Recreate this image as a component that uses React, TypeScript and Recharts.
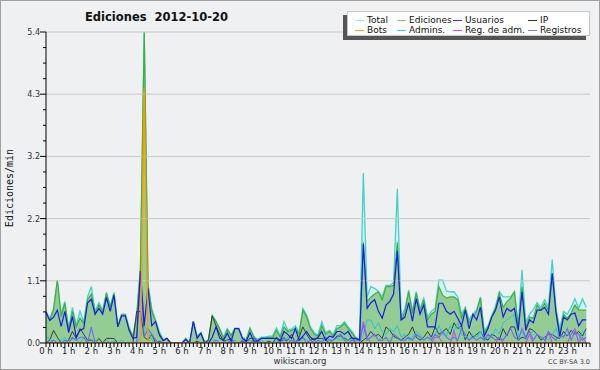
import { ComposedChart, Area, Line, XAxis, YAxis, ReferenceLine } from "recharts";

// 10-minute buckets, 2012-10-20 (144 points, 6 per hour)
const total = [
  0.55, 0.42, 0.6, 1.09, 0.5, 0.72,
  0.25, 0.62, 0.3, 0.55, 0.36, 0.8,
  0.98, 0.55, 0.7, 0.56, 0.88, 0.64,
  0.88, 0.3, 0.5, 0.5, 0.27, 0.12,
  0.5, 1.3, 5.4, 1.02, 0.6, 0.4,
  0.2, 0.06, 0.08, 0, 0, 0,
  0, 0.08, 0, 0.38, 0.12, 0.18,
  0.02, 0.06, 0.48, 0.38, 0.25, 0.1,
  0.25, 0.14, 0.26, 0.26, 0.1, 0.06,
  0.26, 0.12, 0.06, 0.1, 0.1, 0.12,
  0.12, 0.26, 0.12, 0.37, 0.22, 0.24,
  0.3, 0.18, 0.6, 0.48, 0.28, 0.18,
  0.14, 0.37, 0.18, 0.22, 0.14, 0.3,
  0.3, 0.37, 0.28, 0.2, 0.1, 0.06,
  2.95, 0.8, 0.98, 0.95, 0.89, 0.8,
  1.0, 1.0, 1.05, 2.68, 0.45, 0.6,
  0.92, 0.55, 0.89, 0.6, 0.78, 0.45,
  0.55, 0.6, 1.09, 1.09, 0.9, 0.89,
  0.89, 0.8, 0.5, 0.62, 0.4, 0.5,
  0.58, 0.8, 0.2, 0.3, 0.48, 0.64,
  0.89, 0.8, 0.8, 0.8, 0.89, 0.3,
  1.27, 0.35, 0.5, 0.58, 0.7, 0.62,
  0.75, 0.62, 1.45, 0.6, 0.25, 0.55,
  0.5, 0.62, 0.77, 0.6, 0.77, 0.62,
];

const ediciones = [
  0.52, 0.4, 0.57, 1.09, 0.46, 0.69,
  0.23, 0.55, 0.28, 0.43, 0.34, 0.75,
  0.85, 0.51, 0.66, 0.54, 0.86, 0.62,
  0.86, 0.28, 0.49, 0.49, 0.25, 0.11,
  0.45, 1.3, 5.4, 1.0, 0.55, 0.37,
  0.17, 0.05, 0.08, 0, 0, 0,
  0, 0.08, 0, 0.37, 0.11, 0.17,
  0, 0.05, 0.47, 0.37, 0.23, 0.08,
  0.23, 0.12, 0.25, 0.25, 0.08, 0.05,
  0.25, 0.1, 0.05, 0.08, 0.08, 0.1,
  0.1, 0.22, 0.1, 0.28, 0.2, 0.22,
  0.25, 0.15, 0.57, 0.45, 0.25, 0.15,
  0.12, 0.3, 0.15, 0.2, 0.12, 0.25,
  0.28, 0.34, 0.25, 0.17, 0.08, 0.05,
  1.75, 0.72, 0.8, 0.85, 0.89, 0.75,
  0.98, 0.98, 1.0, 1.75, 0.4, 0.54,
  0.89, 0.51, 0.86, 0.55, 0.75, 0.4,
  0.5, 0.55, 0.98, 0.83, 0.78, 0.8,
  0.8, 0.75, 0.43, 0.6, 0.35, 0.45,
  0.55, 0.78, 0.17, 0.28, 0.45, 0.6,
  0.86, 0.62, 0.72, 0.78, 0.89, 0.25,
  0.98, 0.28, 0.45, 0.43, 0.66, 0.57,
  0.69, 0.57, 1.2, 0.57, 0.17, 0.5,
  0.43, 0.52, 0.66, 0.57, 0.57, 0.57,
];

const usuarios = [
  0.54, 0.39, 0.45, 0.57, 0.29, 0.55,
  0.18, 0.46, 0.1, 0.22, 0.25, 0.7,
  0.76, 0.5, 0.6, 0.5, 0.79, 0.55,
  0.83, 0.28, 0.47, 0.47, 0.22, 0.08,
  0.1, 1.25, 0.3, 0.95, 0.3, 0.37,
  0.14, 0.04, 0.08, 0, 0, 0,
  0, 0.06, 0, 0.37, 0.08, 0.17,
  0, 0, 0.1, 0.28, 0.08, 0.05,
  0.17, 0.03, 0.25, 0.25, 0.08, 0.03,
  0.18, 0.03, 0.03, 0.08, 0.08, 0.08,
  0.08, 0.08, 0.03, 0.2, 0.15, 0.08,
  0.25, 0.05, 0.12, 0.2, 0.1, 0.05,
  0.1, 0.2, 0.05, 0.12, 0.1, 0.2,
  0.2, 0.15, 0.2, 0.08, 0.08, 0.05,
  1.72, 0.6, 0.7, 0.75, 0.55, 0.43,
  0.66, 0.72, 0.85, 1.6, 0.4, 0.45,
  0.7, 0.38, 0.77, 0.5, 0.66, 0.28,
  0.28, 0.28, 0.69, 0.69, 0.55, 0.5,
  0.55, 0.43, 0.3, 0.57, 0.25, 0.5,
  0.4, 0.62, 0.12, 0.25, 0.45, 0.57,
  0.8, 0.45, 0.6, 0.55, 0.6, 0.22,
  0.89, 0.22, 0.4, 0.35, 0.57, 0.57,
  0.62, 0.5, 1.21, 0.52, 0.12, 0.45,
  0.4, 0.5, 0.52, 0.3, 0.4, 0.4,
];

const ip = [
  0, 0.05, 0.22, 0.1, 0, 0,
  0.05, 0.2, 0.08, 0.25, 0.15, 0.05,
  0.05, 0, 0.08, 0, 0.08, 0.08,
  0.08, 0, 0, 0, 0, 0,
  0.55, 0.55, 0.1, 0.05, 0.15, 0,
  0.03, 0, 0, 0, 0, 0,
  0, 0, 0, 0, 0.03, 0,
  0, 0.05, 0.47, 0.3, 0.15, 0.03,
  0.05, 0.08, 0, 0, 0.03, 0.02,
  0.08, 0.08, 0.03, 0, 0, 0.03,
  0, 0.1, 0.05, 0.05, 0.05, 0.15,
  0, 0.1, 0.28, 0.15, 0.05, 0.08,
  0.08, 0.08, 0.05, 0, 0.05, 0.12,
  0.12, 0.08, 0.05, 0.1, 0, 0,
  0.05, 0.1, 0.2, 0.12, 0.15, 0.08,
  0.28, 0.22, 0.12, 0.08, 0.05, 0.1,
  0.15, 0.28, 0.1, 0.05, 0.1, 0.2,
  0.1, 0.28, 0.15, 0.2, 0.25, 0.15,
  0.35, 0.25, 0.3, 0.05, 0.2, 0.1,
  0.15, 0.2, 0.08, 0.05, 0.15, 0.12,
  0.05, 0.25, 0.12, 0.28, 0.28, 0.05,
  0.1, 0.08, 0.25, 0.22, 0.15, 0.05,
  0.1, 0.15, 0.15, 0.1, 0.08, 0.2,
  0.12, 0.22, 0.15, 0.2, 0.12, 0.25,
];

const bots = [
  0, 0, 0, 0, 0, 0,
  0, 0, 0, 0, 0, 0,
  0, 0, 0, 0, 0, 0,
  0, 0, 0, 0, 0, 0,
  0, 0, 4.42, 0, 0, 0,
  0, 0, 0, 0, 0, 0,
  0, 0, 0, 0, 0, 0,
  0, 0, 0, 0, 0, 0,
  0, 0, 0, 0, 0, 0,
  0, 0, 0, 0, 0, 0,
  0, 0, 0, 0, 0, 0,
  0, 0, 0, 0, 0, 0,
  0, 0, 0, 0, 0, 0,
  0, 0, 0, 0, 0, 0,
  0, 0, 0, 0, 0, 0,
  0, 0, 0, 0, 0, 0,
  0, 0, 0, 0, 0, 0,
  0, 0, 0, 0, 0, 0,
  0, 0, 0, 0, 0, 0,
  0, 0, 0, 0, 0, 0,
  0, 0, 0, 0, 0, 0,
  0, 0, 0, 0, 0, 0,
  0, 0, 0, 0, 0, 0,
  0, 0, 0, 0, 0, 0,
];

const admins = [
  0.1, 0.08, 0, 0, 0.05, 0.1,
  0, 0.08, 0.05, 0, 0.1, 0,
  0, 0.05, 0, 0, 0.05, 0,
  0.03, 0, 0.05, 0, 0, 0,
  0, 0.1, 0.3, 0.2, 0.05, 0,
  0, 0, 0, 0, 0, 0,
  0, 0, 0, 0, 0, 0,
  0, 0, 0.05, 0.05, 0, 0,
  0.05, 0, 0.05, 0, 0, 0,
  0.05, 0, 0, 0.05, 0, 0,
  0, 0.05, 0, 0.05, 0.1, 0,
  0.05, 0, 0.1, 0.05, 0, 0.05,
  0, 0.05, 0.1, 0, 0.05, 0.08,
  0.05, 0.1, 0.05, 0.05, 0, 0,
  0.15, 0.4, 0.4, 0.25, 0.35, 0.2,
  0.15, 0.25, 0.2, 0.3, 0.1, 0.15,
  0.05, 0.1, 0.2, 0.15, 0.05, 0.1,
  0.08, 0.15, 0.3, 0.15, 0.12, 0.3,
  0.2, 0.35, 0.15, 0.1, 0.05, 0.15,
  0.1, 0.2, 0.05, 0.1, 0.1, 0.25,
  0.15, 0.35, 0.4, 0.45, 0.5, 0.1,
  0.2, 0.05, 0.15, 0.2, 0.15, 0.1,
  0.1, 0.05, 0.15, 0.25, 0.1, 0.12,
  0.15, 0.15, 0.2, 0.05, 0.2, 0.15,
];

const regAdm = [
  0, 0, 0, 0, 0, 0,
  0, 0, 0, 0, 0, 0,
  0, 0, 0, 0, 0, 0,
  0, 0, 0, 0, 0, 0,
  0, 0, 0, 0, 0, 0,
  0, 0, 0, 0, 0, 0,
  0, 0, 0, 0, 0, 0,
  0, 0, 0, 0, 0, 0,
  0, 0, 0, 0, 0, 0,
  0, 0, 0, 0, 0, 0,
  0, 0, 0, 0, 0, 0,
  0, 0, 0, 0, 0, 0,
  0, 0, 0, 0, 0, 0,
  0, 0, 0, 0, 0, 0,
  0.37, 0.1, 0, 0, 0, 0,
  0, 0, 0, 0, 0, 0,
  0, 0, 0, 0, 0, 0,
  0, 0.1, 0.1, 0, 0, 0,
  0.2, 0, 0, 0, 0, 0,
  0, 0, 0, 0, 0, 0,
  0.1, 0, 0, 0, 0, 0,
  0, 0, 0.15, 0, 0, 0,
  0, 0.2, 0, 0, 0, 0,
  0, 0.15, 0.25, 0, 0.1, 0,
];

const registros = [
  0, 0, 0.05, 0, 0, 0.05,
  0, 0.1, 0.05, 0.1, 0.1, 0,
  0.28, 0, 0, 0, 0, 0,
  0, 0, 0, 0, 0, 0,
  0, 1.15, 0.1, 0.25, 0.15, 0.05,
  0, 0, 0, 0, 0, 0,
  0, 0, 0, 0, 0, 0,
  0, 0, 0, 0.05, 0, 0,
  0, 0.05, 0, 0, 0.05, 0,
  0, 0.05, 0.05, 0, 0, 0,
  0, 0, 0.05, 0.1, 0, 0.05,
  0, 0.05, 0.1, 0, 0.05, 0,
  0.05, 0, 0.1, 0.05, 0.05, 0.1,
  0.15, 0.05, 0, 0.05, 0.05, 0.05,
  0.3, 0.05, 0.1, 0.15, 0.05, 0.05,
  0.1, 0, 0.15, 0.1, 0.05, 0.05,
  0.1, 0.05, 0.15, 0.1, 0.05, 0.1,
  0.05, 0.15, 0.1, 0.2, 0.1, 0.05,
  0.1, 0.05, 0.25, 0.15, 0.05, 0.1,
  0.05, 0.1, 0.05, 0.15, 0.1, 0.05,
  0.1, 0.05, 0.15, 0.25, 0.1, 0.05,
  0.25, 0.1, 0.2, 0.05, 0.15, 0.1,
  0.05, 0.2, 0.1, 0.05, 0.15, 0.1,
  0.25, 0.05, 0.2, 0.15, 0.05, 0.1,
];

const hourLabels = [
  "0 h", "1 h", "2 h", "3 h", "4 h", "5 h", "6 h", "7 h", "8 h", "9 h", "10 h", "11 h",
  "12 h", "13 h", "14 h", "15 h", "16 h", "17 h", "18 h", "19 h", "20 h", "21 h", "22 h", "23 h",
];

// y ticks every 0.27, labelled every fourth one
const yTicks = [
  0, 0.27, 0.54, 0.81, 1.08, 1.35, 1.62, 1.89, 2.16, 2.43, 2.7,
  2.97, 3.24, 3.51, 3.78, 4.05, 4.32, 4.59, 4.86, 5.13, 5.4,
];
const yGrid = [1.08, 2.16, 3.24, 4.32, 5.4];

const legend = [
  { name: "Total", color: "#9fe8e2", x: 355, y: 0 },
  { name: "Ediciones", color: "#77cf77", x: 397, y: 0 },
  { name: "Usuarios", color: "#3333ee", x: 453, y: 0 },
  { name: "IP", color: "#333333", x: 528, y: 0 },
  { name: "Bots", color: "#ffa030", x: 355, y: 1 },
  { name: "Admins.", color: "#33ccee", x: 397, y: 1 },
  { name: "Reg. de adm.", color: "#dd44ee", x: 453, y: 1 },
  { name: "Registros", color: "#7777ff", x: 528, y: 1 },
];

const data = total.map((t, i) => ({
  i,
  total: t,
  ediciones: ediciones[i],
  usuarios: usuarios[i],
  ip: ip[i],
  bots: bots[i],
  admins: admins[i],
  regAdm: regAdm[i],
  registros: registros[i],
}));

const xTicks = Array.from({ length: 145 }, (_, i) => i);
const font = "DejaVu Sans, sans-serif";

const XTick = (props: any) => {
  const { x, y, payload } = props;
  const v = payload.value;
  const major = v % 6 === 0;
  return (
    <g>
      <line x1={x} x2={x} y1={y} y2={y + 4} stroke="#000" />
      {major && v / 6 < hourLabels.length && (
        <text x={x} y={y + 11} textAnchor="middle" fontSize={8.5} fontFamily={font} fill="#222">
          {hourLabels[v / 6]}
        </text>
      )}
    </g>
  );
};

const YTick = (props: any) => {
  const { x, y, index, payload } = props;
  const major = index % 4 === 0;
  return (
    <g>
      <line x1={x - (major ? 6 : 3)} x2={x} y1={y} y2={y} stroke="#000" />
      {major && (
        <text x={x - 6} y={y + 3} textAnchor="end" fontSize={8} fontFamily={font} fill="#333">
          {payload.value.toFixed(1)}
        </text>
      )}
    </g>
  );
};

export default function App() {
  return (
    <div
      style={{
        position: "absolute",
        left: 0,
        top: 0,
        width: 600,
        height: 370,
        background: "#eef0f1",
        boxShadow: "inset 0 0 0 1px #a0a0a0",
        fontFamily: font,
      }}
    >
      <ComposedChart width={600} height={370} data={data} margin={{ top: 32, right: 10, bottom: 0, left: 0 }}>
        {yGrid.map((g) => (
          <ReferenceLine key={g} y={g} stroke="#c8c8c8" />
        ))}
        <XAxis
          dataKey="i"
          type="number"
          domain={[0, 144]}
          ticks={xTicks}
          interval={0}
          height={27}
          tickSize={0}
          tickMargin={0}
          tickLine={false}
          axisLine={{ stroke: "#000" }}
          tick={XTick}
        />
        <YAxis
          type="number"
          domain={[0, 5.4]}
          ticks={yTicks}
          interval={0}
          width={46}
          tickSize={0}
          tickMargin={0}
          tickLine={false}
          axisLine={{ stroke: "#000" }}
          tick={YTick}
          allowDataOverflow
        />
        <Area type="linear" dataKey="total" stroke="#3fd3cb" strokeWidth={1.3} fill="#d6f2ee" fillOpacity={1} isAnimationActive={false} />
        <Area type="linear" dataKey="ediciones" stroke="#3cb03c" strokeWidth={1.2} fill="#93cd93" fillOpacity={1} isAnimationActive={false} />
        <Line type="linear" dataKey="ip" stroke="#3a3a3a" strokeWidth={1} dot={false} isAnimationActive={false} />
        <Line type="linear" dataKey="admins" stroke="#22c4dd" strokeWidth={1} dot={false} isAnimationActive={false} />
        <Line type="linear" dataKey="regAdm" stroke="#dd33ee" strokeWidth={1} dot={false} isAnimationActive={false} />
        <Line type="linear" dataKey="registros" stroke="#6a6aff" strokeWidth={1.1} dot={false} isAnimationActive={false} />
        <Line type="linear" dataKey="usuarios" stroke="#1a1aee" strokeWidth={1.2} dot={false} isAnimationActive={false} />
        <Line type="linear" dataKey="bots" stroke="#ff9900" strokeWidth={1.4} dot={false} isAnimationActive={false} />
      </ComposedChart>

      <svg width={600} height={370} style={{ position: "absolute", left: 0, top: 0, pointerEvents: "none" }}>
        <text x={85} y={21} fontSize={11.5} fontWeight="bold" fontFamily={font} fill="#111" style={{ whiteSpace: "pre" }}>
          {"Ediciones  2012-10-20"}
        </text>
        <text
          x={13}
          y={188}
          transform="rotate(-90 13 188)"
          textAnchor="middle"
          fontSize={10}
          fontFamily="DejaVu Sans Mono, monospace"
          fill="#111"
        >
          Ediciones/min
        </text>
        <text x={300} y={364} textAnchor="middle" fontSize={8.5} fontFamily={font} fill="#333">
          wikiscan.org
        </text>
        <text x={590} y={364} textAnchor="end" fontSize={6.5} fontFamily={font} fill="#444">
          CC BY-SA 3.0
        </text>
      </svg>

      <div
        style={{
          position: "absolute",
          left: 347,
          top: 11,
          width: 243,
          height: 25,
          background: "#fff",
          border: "1px solid #c8c8c8",
          boxSizing: "border-box",
          boxShadow: "-4px 4px 0 #555",
        }}
      />
      {legend.map((l) => (
        <div
          key={l.name}
          style={{
            position: "absolute",
            left: l.x,
            top: 15 + l.y * 10,
            height: 10,
            display: "flex",
            alignItems: "center",
            fontSize: 9,
            lineHeight: "10px",
            color: "#111",
            whiteSpace: "nowrap",
          }}
        >
          <span style={{ display: "inline-block", width: 9, height: 1, background: l.color, marginRight: 3 }} />
          {l.name}
        </div>
      ))}
    </div>
  );
}
